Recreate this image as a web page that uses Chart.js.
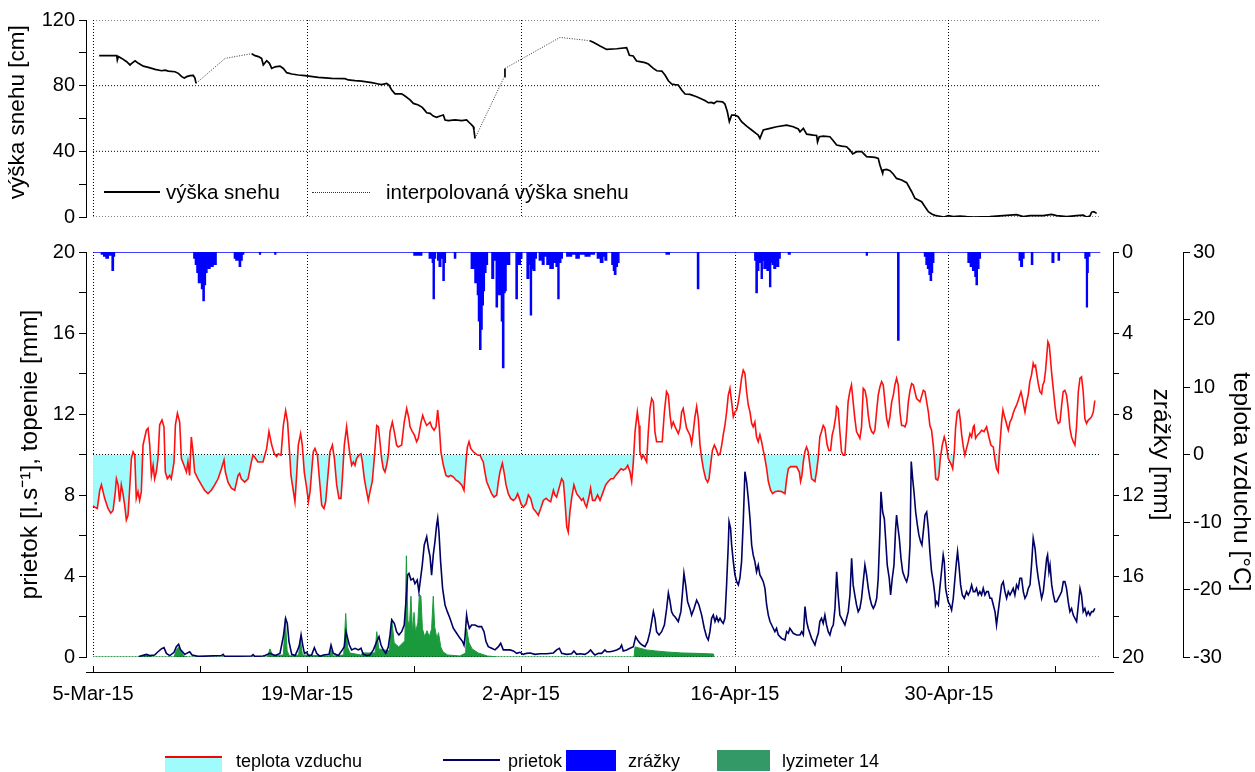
<!DOCTYPE html>
<html><head><meta charset="utf-8">
<script src="https://cdn.jsdelivr.net/npm/chart.js@4.4.1/dist/chart.umd.min.js"></script>
<style>
html,body{margin:0;padding:0;background:#fff;}
#wrap{position:relative;width:1255px;height:772px;overflow:hidden;font-family:'Liberation Sans',Arial,Helvetica,sans-serif;color:#000;background:#fff;}
canvas{position:absolute;left:0;top:0;}
.lg{position:absolute;font-size:18px;line-height:22px;white-space:nowrap;}
.lgt{position:absolute;font-size:20.5px;line-height:22px;white-space:nowrap;}
.sw{position:absolute;}
</style></head><body>
<div id="wrap">
<canvas id="topc" width="1255" height="772"></canvas>
<canvas id="botc" width="1255" height="772"></canvas>

<div class="sw" style="left:104px;top:191px;width:56px;border-top:2px solid #000;"></div>
<div class="lgt" style="left:166px;top:181px;">výška snehu</div>
<div class="sw" style="left:312px;top:192px;width:58px;border-top:1px dotted #333;"></div>
<div class="lgt" style="left:386px;top:181px;">interpolovaná výška snehu</div>

<div class="sw" style="left:165px;top:756px;width:57px;border-top:2px solid #ff0000;"></div>
<div class="sw" style="left:165px;top:758px;width:57px;height:14px;background:#a0fcfc;"></div>
<div class="lg" style="left:236px;top:750px;">teplota vzduchu</div>
<div class="sw" style="left:443px;top:759px;width:57px;border-top:2px solid #000066;"></div>
<div class="lg" style="left:508px;top:750px;">prietok</div>
<div class="sw" style="left:566px;top:750px;width:50px;height:21px;background:#0000ff;"></div>
<div class="lg" style="left:628px;top:750px;">zrážky</div>
<div class="sw" style="left:717px;top:750px;width:53px;height:21px;background:#339966;"></div>
<div class="lg" style="left:782px;top:750px;">lyzimeter 14</div>
</div>

<script>
// ---------------- DATA (days since 5-Mar-2015 00:00) ----------------
const tickDays = [0, 14, 28, 42, 56];
const tickLabels = ['5-Mar-15', '19-Mar-15', '2-Apr-15', '16-Apr-15', '30-Apr-15'];
const minorTickDays = [7, 21, 35, 49, 63];
const dataEndDay = 65.9;

const snowAxisTicks = [0, 20, 40, 60, 80, 100, 120];
const snowAxisLabels = [0, 40, 80, 120];
const snowGridValues = [0, 40, 80, 120];
const leftAxisTicks = [0, 2, 4, 6, 8, 10, 12, 14, 16, 18, 20];
const leftAxisLabels = [0, 4, 8, 12, 16, 20];
const precipAxisTicks = [0, 2, 4, 6, 8, 10, 12, 14, 16, 18, 20];
const precipAxisLabels = [0, 4, 8, 12, 16, 20];
const tempAxisTicks = [-30, -20, -10, 0, 10, 20, 30];

// snow depth [cm] measured segments
const snowMeasured1 = [[0.4,98.3],[1.55,98.3],[1.59,95.6],[1.66,97.7],[1.88,96.6],[2.20,94.6],[2.42,92.6],[2.53,93.6],[2.75,95.2],[2.97,93.6],[3.29,91.9],[3.62,91.1],[4.06,89.9],[4.49,89.1],[4.71,89.5],[4.93,88.9],[5.36,88.5],[5.58,87.5],[5.80,85.5],[5.97,84.7],[6.13,85.5],[6.35,86.1],[6.56,86.3],[6.67,84.5],[6.74,81.4]];
const snowMeasured2 = [[10.38,99.5],[10.60,98.3],[10.82,97.7],[11.03,96.6],[11.14,92.6],[11.36,95.2],[11.54,93.6],[11.69,90.5],[11.91,91.5],[12.23,91.9],[12.45,90.5],[12.67,87.9],[13.00,87.1],[13.43,86.5],[13.87,86.1],[14.74,85.1],[15.61,84.5],[16.48,84.3],[16.70,83.5],[17.14,83.1],[17.57,82.8],[18.23,81.8],[18.67,81.0],[18.88,80.6],[19.21,81.4],[19.36,80.4],[19.54,77.4],[19.76,75.0],[20.19,75.0],[20.41,73.7],[20.74,71.3],[20.96,69.2],[21.28,68.2],[21.54,66.8],[21.72,64.8],[21.83,63.5],[22.05,63.1],[22.26,61.5],[22.48,60.7],[22.70,61.5],[22.92,62.1],[23.03,59.1],[23.25,58.7],[23.68,59.1],[24.12,58.7],[24.44,59.1],[24.66,57.1],[24.77,56.1],[24.88,55.0],[24.92,53.0],[24.99,47.9]];
const snowMeasured3 = [[26.91,85.5],[26.95,90.5]];
const snowMeasured4 = [[32.5,107.4],[32.73,106.4],[33.17,104.1],[33.60,102.1],[34.26,102.5],[34.91,103.1],[35.09,98.5],[35.34,98.1],[35.56,95.0],[35.78,94.6],[36.11,94.0],[36.33,93.2],[36.66,90.5],[36.88,89.1],[37.21,88.9],[37.42,86.5],[37.64,83.0],[37.86,81.0],[38.07,80.6],[38.29,80.4],[38.51,77.4],[38.73,74.9],[39.06,74.7],[39.49,73.3],[40.03,70.9],[40.25,69.6],[40.47,69.8],[40.62,69.2],[40.80,70.5],[41.19,70.1],[41.34,68.8],[41.50,64.1],[41.63,58.1],[41.78,62.1],[41.99,62.1],[42.21,61.1],[42.43,58.1],[42.76,55.4],[43.09,53.0],[43.37,50.9],[43.52,49.9],[43.63,47.9],[43.85,53.0],[44.29,54.0],[44.72,55.0],[45.38,56.0],[45.81,55.0],[46.14,53.6],[46.25,51.9],[46.47,54.0],[46.69,50.5],[47.12,49.9],[47.34,49.7],[47.40,45.7],[47.51,48.9],[47.78,49.3],[48.21,48.9],[48.43,46.5],[48.65,43.8],[48.98,43.2],[49.30,42.8],[49.52,40.8],[49.70,38.4],[49.96,39.8],[50.29,39.8],[50.61,36.8],[51.16,36.3],[51.37,35.7],[51.48,31.7],[51.66,26.6],[51.70,28.6],[51.92,29.0],[52.14,28.2],[52.35,26.2],[52.57,23.5],[52.90,22.5],[53.23,20.9],[53.56,15.4],[53.77,11.4],[53.99,10.4],[54.21,9.3],[54.43,6.3],[54.65,3.2],[54.87,1.8],[55.08,1.0],[55.30,0.6],[55.52,0.2],[55.67,0],[55.96,0.8],[56.28,0.2],[56.72,0.6],[57.15,0.2],[57.59,0],[58.68,0.2],[59.55,0.8],[60.42,1.4],[60.86,0.2],[61.29,0.8],[62.17,0.8],[62.71,1.6],[63.04,0.8],[63.70,0.2],[64.35,0.8],[64.78,1.2],[65.00,0],[65.22,0.6],[65.33,2.9],[65.48,3.2],[65.66,2.2]];
// interpolated snow depth [cm]
const snowInterp1 = [[6.74,81.4],[8.64,96.6],[10.38,99.5]];
const snowInterp2 = [[24.99,47.9],[26.91,85.5]];
const snowInterp3 = [[26.95,90.5],[30.55,109.4],[32.5,107.4]];

// air temperature [°C]
const temperature = [[0.0,-7.6],[0.11,-7.8],[0.28,-8.0],[0.44,-5.3],[0.55,-4.5],[0.76,-6.5],[0.98,-8.0],[1.16,-8.7],[1.31,-8.3],[1.46,-5.5],[1.53,-3.6],[1.64,-4.5],[1.74,-7.0],[1.85,-4.5],[1.96,-5.8],[2.07,-7.5],[2.18,-9.7],[2.29,-9.0],[2.40,-5.0],[2.51,-0.6],[2.62,0.4],[2.73,-0.1],[2.83,-6.5],[2.94,-5.5],[3.05,-6.8],[3.16,-5.5],[3.27,1.4],[3.49,3.6],[3.60,3.9],[3.71,1.4],[3.82,-3.1],[3.93,-1.6],[4.03,-3.6],[4.14,-2.6],[4.25,-0.6],[4.36,4.4],[4.51,5.1],[4.64,4.1],[4.73,-2.6],[4.86,-3.6],[5.02,-3.1],[5.12,-3.6],[5.30,-1.1],[5.39,4.4],[5.52,6.1],[5.67,4.8],[5.78,-0.6],[5.95,-1.6],[6.11,-2.6],[6.21,-1.1],[6.32,-3.1],[6.43,2.6],[6.54,0.4],[6.65,-2.6],[6.87,-3.6],[7.09,-4.5],[7.30,-5.3],[7.52,-5.8],[7.74,-5.3],[7.96,-4.5],[8.18,-3.6],[8.40,-2.1],[8.57,-0.8],[8.66,-2.6],[8.83,-4.1],[9.05,-5.0],[9.27,-5.3],[9.49,-3.1],[9.59,-2.8],[9.70,-3.6],[9.92,-4.1],[10.14,-3.6],[10.36,-1.1],[10.47,-0.1],[10.58,-0.4],[10.79,-1.1],[11.12,-1.1],
[11.36,0.9],[11.51,3.4],[11.69,1.4],[11.86,0.1],[12.01,-0.3],[12.12,0.1],[12.30,-0.1],[12.45,4.3],[12.60,6.5],[12.73,4.8],[12.84,0.9],[12.95,-3.1],[13.11,-5.5],[13.21,-7.0],[13.32,-3.1],[13.43,1.4],[13.58,3.1],[13.69,1.4],[13.82,-2.6],[13.98,-5.0],[14.09,-7.0],[14.20,-5.5],[14.30,-2.6],[14.41,0.4],[14.52,0.9],[14.68,-0.1],[14.81,-3.6],[14.96,-7.5],[15.11,-8.0],[15.22,-7.0],[15.35,-3.6],[15.50,0.4],[15.66,1.4],[15.79,-0.6],[15.94,-4.5],[16.09,-6.5],[16.22,-6.5],[16.31,-3.6],[16.44,1.4],[16.59,4.1],[16.70,1.9],[16.81,-0.1],[16.92,-1.6],[17.03,-1.1],[17.14,-1.6],[17.24,-0.6],[17.40,-0.1],[17.53,0.1],[17.62,-1.1],[17.75,-3.6],[17.90,-5.5],[18.01,-6.8],[18.12,-5.5],[18.27,-4.0],[18.40,-0.6],[18.56,4.3],[18.67,4.1],[18.77,1.9],[18.88,-0.6],[18.99,-2.1],[19.10,-2.6],[19.21,-1.6],[19.32,-0.1],[19.43,3.4],[19.58,4.8],[19.71,3.4],[19.86,1.4],[19.97,1.1],[20.19,1.4],[20.36,4.8],[20.52,6.8],[20.67,5.3],[20.74,4.1],[20.89,3.4],[21.02,2.9],[21.17,1.9],[21.28,2.4],[21.46,4.8],[21.57,5.8],[21.67,5.1],[21.83,4.3],[22.05,4.8],
[22.16,4.1],[22.31,3.6],[22.44,4.1],[22.55,6.6],[22.66,3.9],[22.76,0.4],[22.92,-1.6],[23.09,-3.1],[23.25,-3.3],[23.40,-3.1],[23.57,-3.3],[23.75,-3.8],[23.90,-4.0],[24.12,-4.5],[24.27,-5.3],[24.40,-1.1],[24.49,1.1],[24.60,1.9],[24.71,0.9],[24.88,0.4],[25.05,0.1],[25.20,-0.1],[25.32,-0.1],[25.42,-0.6],[25.53,-1.1],[25.64,-2.6],[25.75,-4.0],[25.93,-5.0],[26.08,-5.8],[26.23,-6.3],[26.41,-6.0],[26.52,-4.0],[26.62,-2.6],[26.78,-1.3],[26.89,-2.6],[27.02,-4.5],[27.17,-5.8],[27.32,-6.5],[27.50,-6.8],[27.65,-6.5],[27.78,-5.8],[27.89,-6.5],[28.00,-7.3],[28.15,-7.8],[28.33,-7.3],[28.48,-6.0],[28.63,-6.5],[28.80,-8.0],[28.98,-8.5],[29.13,-9.0],[29.29,-8.0],[29.46,-6.8],[29.64,-6.5],[29.79,-6.8],[29.94,-7.0],[30.12,-5.3],[30.22,-6.0],[30.33,-6.3],[30.51,-4.8],[30.66,-3.6],[30.77,-4.0],[30.88,-7.0],[30.99,-10.7],[31.09,-11.5],[31.20,-8.5],[31.31,-6.5],[31.46,-4.5],[31.64,-5.8],[31.81,-6.3],[31.97,-6.8],[32.07,-6.5],[32.18,-7.3],[32.29,-7.8],[32.47,-6.0],[32.55,-5.0],[32.68,-6.8],[32.84,-6.8],
[33.01,-6.0],[33.17,-6.8],[33.38,-5.5],[33.54,-4.5],[33.71,-4.0],[33.88,-3.6],[34.04,-3.6],[34.19,-3.1],[34.37,-2.6],[34.54,-2.1],[34.69,-2.3],[34.85,-2.1],[34.98,-1.6],[35.13,-2.6],[35.24,-4.0],[35.35,-1.1],[35.46,3.4],[35.61,6.3],[35.72,4.3],[35.78,0.4],[35.89,-0.6],[36.00,-0.1],[36.11,-0.6],[36.22,-1.1],[36.33,3.4],[36.44,6.8],[36.55,8.3],[36.66,7.8],[36.76,3.4],[36.87,1.9],[36.98,1.9],[37.09,1.9],[37.24,1.9],[37.38,6.3],[37.52,9.3],[37.64,8.8],[37.75,5.8],[37.85,4.1],[37.96,4.8],[38.12,3.9],[38.29,3.1],[38.40,3.9],[38.51,6.3],[38.61,6.8],[38.72,5.3],[38.83,3.9],[38.94,3.4],[39.05,2.9],[39.16,1.6],[39.27,3.4],[39.38,5.6],[39.49,7.1],[39.60,5.3],[39.71,1.4],[39.82,-0.6],[39.93,-2.1],[40.08,-3.6],[40.21,-4.1],[40.30,-3.6],[40.43,-1.1],[40.52,0.6],[40.65,1.4],[40.75,0.9],[40.91,-0.1],[41.02,0.1],[41.13,1.4],[41.23,2.9],[41.34,4.3],[41.45,6.3],[41.56,8.8],[41.67,9.8],[41.78,7.8],[41.89,5.6],[42.00,6.3],[42.11,6.6],[42.22,7.8],[42.32,9.3],[42.43,11.3],[42.54,12.5],[42.65,12.0],[42.76,9.3],[42.87,7.3],[42.98,6.3],[43.09,4.6],[43.19,4.1],[43.30,4.8],[43.41,2.6],[43.52,1.9],[43.63,2.9],
[43.74,1.9],[43.85,0.6],[43.96,-0.6],[44.07,-2.1],[44.18,-4.0],[44.33,-5.3],[44.46,-5.8],[44.62,-5.5],[44.83,-5.4],[45.05,-5.5],[45.27,-5.8],[45.38,-3.6],[45.49,-2.1],[45.64,-1.8],[45.81,-1.8],[46.03,-1.8],[46.21,-2.6],[46.29,-4.0],[46.38,-3.1],[46.47,-1.1],[46.57,0.4],[46.68,1.1],[46.79,0.4],[46.90,-1.6],[47.01,-3.6],[47.12,-3.8],[47.23,-4.0],[47.33,-2.6],[47.44,-0.6],[47.55,2.6],[47.66,3.4],[47.77,4.3],[47.88,3.9],[48.03,1.4],[48.14,0.6],[48.25,0.6],[48.36,2.9],[48.47,3.9],[48.60,5.8],[48.64,7.1],[48.75,6.8],[48.86,3.4],[48.97,0.4],[49.08,-0.1],[49.19,-0.1],[49.29,3.4],[49.40,7.8],[49.51,9.3],[49.62,10.3],[49.73,7.8],[49.84,5.3],[49.95,3.4],[50.06,2.9],[50.17,2.4],[50.28,4.1],[50.39,9.8],[50.50,9.5],[50.61,8.3],[50.72,5.8],[50.83,4.1],[50.94,3.4],[51.05,3.1],[51.15,3.6],[51.26,6.3],[51.37,8.8],[51.48,10.0],[51.59,10.8],[51.70,10.3],[51.81,7.8],[51.92,5.3],[52.03,4.3],[52.14,5.6],[52.25,7.8],[52.36,8.8],[52.46,10.3],[52.57,11.3],[52.68,10.3],[52.79,6.3],[52.90,4.3],[53.01,4.3],[53.12,4.1],[53.23,4.8],[53.34,7.8],[53.45,9.5],[53.56,10.5],[53.67,10.3],[53.77,9.3],[53.88,8.3],[54.10,7.8],[54.32,9.5],[54.43,9.3],
[54.54,7.8],[54.65,6.3],[54.75,4.3],[54.86,3.6],[54.97,1.4],[55.04,-0.6],[55.13,-3.6],[55.26,-3.8],[55.34,-3.1],[55.43,-0.6],[55.56,1.4],[55.69,2.6],[55.78,1.9],[55.87,0.6],[55.95,-0.6],[56.06,-1.1],[56.17,-1.6],[56.24,-2.1],[56.35,0.4],[56.43,3.9],[56.54,6.3],[56.65,6.6],[56.74,5.1],[56.83,2.9],[56.94,1.1],[57.04,-0.1],[57.15,0.9],[57.26,1.9],[57.37,3.1],[57.48,2.6],[57.59,4.1],[57.65,4.3],[57.74,2.4],[57.87,2.9],[57.98,3.1],[58.13,3.6],[58.29,3.4],[58.46,4.1],[58.61,2.6],[58.74,1.4],[58.90,1.1],[59.00,-0.6],[59.11,-2.1],[59.22,-2.6],[59.33,1.4],[59.44,4.8],[59.53,6.6],[59.61,5.8],[59.70,5.1],[59.79,4.3],[59.88,3.6],[59.99,4.8],[60.10,5.3],[60.20,6.1],[60.31,6.8],[60.42,7.3],[60.57,8.3],[60.71,9.3],[60.79,8.5],[60.88,7.3],[60.97,6.3],[61.08,7.8],[61.18,8.8],[61.29,10.8],[61.40,11.8],[61.51,13.5],[61.58,13.0],[61.66,13.2],[61.75,11.8],[61.84,10.5],[61.95,9.3],[62.06,9.0],[62.14,10.3],[62.23,10.8],[62.32,12.5],[62.40,14.7],[62.47,16.7],[62.56,16.2],[62.62,14.7],[62.71,12.2],[62.82,9.8],[62.93,7.3],[63.04,5.3],[63.15,4.6],[63.26,4.8],[63.37,7.3],[63.47,9.3],[63.58,9.5],[63.69,8.8],[63.80,6.8],[63.91,3.9],[64.02,2.6],[64.13,1.9],[64.24,1.4],[64.35,4.3],[64.46,9.3],[64.57,11.3],[64.67,11.5],[64.78,9.3],[64.89,5.3],[65.00,4.6],[65.11,5.1],[65.22,5.3],[65.33,5.6],[65.44,6.3],[65.54,8.0]];

// discharge [l/s]
const discharge = [[3.0,0.02],[3.49,0.13],[3.71,0.07],[4.03,0.10],[4.25,0.26],[4.47,0.40],[4.64,0.46],[4.80,0.18],[5.02,0.07],[5.30,0.23],[5.45,0.51],[5.60,0.63],[5.73,0.35],[6.00,0.13],[6.32,0.26],[6.48,0.10],[6.87,0.03],[8.40,0.07],[8.51,0.13],[8.61,0.03],[10.36,0.05],[10.47,0.12],[10.58,0.03],[11.12,0.05],
[11.25,0.07],[11.58,0.18],[11.91,0.07],[12.23,0.18],[12.45,1.0],[12.60,1.91],[12.71,1.66],[12.82,0.76],[13.00,0.13],[13.22,0.07],[13.39,0.35],[13.50,0.59],[13.61,1.09],[13.72,0.59],[13.83,0.18],[13.98,0.23],[14.09,0.07],[14.30,0.10],[14.48,0.46],[14.63,0.18],[14.85,0.03],[15.07,0.10],[15.44,0.13],[15.57,0.59],[15.72,0.18],[16.05,0.07],[16.31,0.35],[16.44,0.51],[16.55,1.25],[16.66,0.92],[16.77,0.59],[16.92,0.35],[17.14,0.43],[17.36,0.35],[17.53,0.43],[17.68,0.13],[17.90,0.07],[18.12,0.10],[18.34,0.35],[18.56,0.76],[18.71,1.00],[18.84,0.59],[18.99,0.35],[19.15,0.18],[19.32,0.51],[19.43,1.09],[19.54,1.83],[19.71,1.66],[19.86,1.25],[20.01,1.09],[20.19,1.25],[20.36,1.58],[20.52,3.23],[20.58,4.05],[20.67,4.13],[20.80,3.80],[20.95,3.88],[21.06,3.62],[21.21,3.80],[21.32,3.23],[21.43,3.88],[21.54,4.54],[21.67,5.53],[21.83,5.94],[21.94,5.37],[22.05,4.96],
[22.15,4.04],[22.26,5.04],[22.37,5.70],[22.48,6.52],[22.55,6.85],[22.63,6.19],[22.74,4.71],[22.87,3.39],[23.03,2.57],[23.18,2.24],[23.35,1.91],[23.57,1.42],[23.79,1.17],[24.01,0.92],[24.18,0.76],[24.27,0.59],[24.33,0.92],[24.44,2.07],[24.51,1.75],[24.62,1.42],[24.77,1.58],[24.99,1.58],[25.20,1.50],[25.42,1.50],[25.58,1.25],[25.71,0.76],[25.86,0.51],[26.08,0.43],[26.30,0.35],[26.52,0.51],[26.67,0.68],[26.84,0.35],[27.28,0.35],[27.50,0.30],[27.72,0.18],[27.93,0.23],[28.15,0.13],[28.37,0.18],[28.59,0.20],[28.92,0.13],[29.24,0.16],[29.68,0.16],[30.12,0.20],[30.33,0.35],[30.51,0.43],[30.66,0.18],[30.99,0.13],[31.31,0.16],[31.46,0.30],[31.64,0.13],[31.86,0.16],[32.18,0.13],[32.40,0.23],[32.55,0.35],[32.73,0.18],[32.84,0.10],
[33.06,0.18],[33.28,0.18],[33.49,0.35],[33.60,0.26],[33.82,0.26],[34.04,0.30],[34.26,0.35],[34.47,0.43],[34.58,0.59],[34.69,0.30],[34.91,0.35],[35.13,0.43],[35.35,0.51],[35.50,1.00],[35.63,0.84],[35.78,0.68],[35.93,0.59],[36.11,0.51],[36.28,0.76],[36.44,1.25],[36.55,1.75],[36.66,2.24],[36.76,1.91],[36.87,1.25],[37.03,1.09],[37.20,1.25],[37.38,1.58],[37.53,2.40],[37.64,3.16],[37.75,2.75],[37.85,2.24],[37.96,2.07],[38.07,1.99],[38.29,1.75],[38.46,2.24],[38.57,3.23],[38.66,4.13],[38.77,3.56],[38.90,2.73],[39.05,2.40],[39.16,2.07],[39.32,2.40],[39.49,2.81],[39.64,2.57],[39.82,2.07],[39.99,1.42],[40.14,1.00],[40.25,0.84],[40.36,1.25],[40.47,1.91],[40.58,2.07],[40.69,1.75],[40.80,1.99],[40.91,1.75],[41.02,1.91],[41.13,1.75],[41.23,1.66],[41.34,1.91],[41.45,3.56],[41.56,5.53],[41.61,6.68],[41.71,6.35],[41.78,5.53],[41.89,4.71],[42.00,4.05],[42.11,3.72],[42.22,3.56],[42.32,3.89],[42.43,4.71],[42.54,6.68],[42.65,9.15],[42.76,8.64],[42.87,7.82],[42.98,6.85],[43.09,5.53],[43.19,5.04],[43.30,4.71],[43.41,4.21],[43.52,4.54],[43.63,4.05],
[43.74,3.89],[43.85,3.72],[43.96,3.39],[44.07,2.57],[44.18,2.07],[44.29,1.75],[44.40,1.58],[44.50,1.42],[44.61,1.25],[44.72,1.42],[44.83,1.09],[45.05,0.92],[45.27,0.84],[45.38,1.25],[45.49,1.17],[45.59,1.42],[45.81,1.17],[46.03,1.09],[46.25,1.09],[46.36,1.25],[46.47,1.09],[46.58,2.49],[46.69,1.75],[46.79,1.42],[46.90,1.17],[47.01,0.92],[47.12,0.76],[47.23,0.59],[47.34,0.92],[47.45,1.17],[47.55,1.75],[47.66,1.91],[47.77,1.66],[47.88,2.07],[47.99,1.58],[48.10,1.25],[48.21,1.09],[48.32,1.42],[48.43,1.58],[48.54,2.40],[48.65,4.21],[48.75,3.06],[48.86,2.07],[48.97,1.91],[49.08,1.75],[49.19,1.58],[49.30,1.91],[49.41,2.24],[49.52,3.06],[49.63,4.87],[49.73,3.56],[49.84,3.06],[49.95,2.57],[50.06,2.24],[50.17,2.40],[50.28,2.90],[50.39,3.72],[50.50,4.54],[50.61,4.05],[50.72,3.39],[50.83,2.90],[50.94,2.57],[51.05,2.40],[51.16,2.57],[51.27,2.90],[51.37,3.89],[51.48,6.19],[51.55,8.16],[51.66,7.16],[51.77,6.83],[51.88,5.53],[51.96,4.54],[52.09,3.89],[52.18,3.06],[52.29,3.89],[52.40,4.54],[52.51,6.35],[52.57,7.01],[52.64,6.52],[52.75,5.86],[52.86,4.87],[52.97,4.21],[53.12,3.89],[53.23,3.72],[53.34,4.05],[53.45,5.53],[53.53,9.65],[53.62,8.82],[53.71,8.16],[53.82,7.16],[53.93,6.52],[54.03,6.03],[54.14,5.70],[54.23,5.53],[54.32,6.19],[54.43,7.01],
[54.54,7.16],[54.65,6.35],[54.75,5.20],[54.86,4.21],[54.97,3.72],[55.08,3.06],[55.12,2.57],[55.19,2.73],[55.30,2.57],[55.40,3.39],[55.51,4.21],[55.62,5.04],[55.69,4.71],[55.78,3.39],[55.86,3.06],[55.95,2.73],[56.06,2.57],[56.17,2.32],[56.28,2.90],[56.39,3.89],[56.49,4.71],[56.56,5.20],[56.65,4.54],[56.76,3.56],[56.87,3.06],[57.00,2.90],[57.15,3.23],[57.26,3.06],[57.37,3.23],[57.48,3.56],[57.59,3.23],[57.70,3.23],[57.80,3.39],[57.91,3.06],[58.02,3.23],[58.13,3.06],[58.24,3.39],[58.35,3.06],[58.46,3.23],[58.57,3.23],[58.68,2.90],[58.79,2.90],[58.90,2.57],[59.01,2.24],[59.11,1.58],[59.22,2.24],[59.33,2.90],[59.44,3.56],[59.55,3.72],[59.66,3.23],[59.77,2.90],[59.88,3.23],[59.99,3.06],[60.10,3.23],[60.20,3.39],[60.31,3.06],[60.42,3.56],[60.53,3.39],[60.64,3.89],[60.75,3.89],[60.86,3.23],[60.97,2.90],[61.08,3.06],[61.19,3.39],[61.30,3.56],[61.40,4.54],[61.51,5.86],[61.63,5.37],[61.73,4.54],[61.84,3.89],[61.95,3.39],[62.06,2.90],[62.17,3.23],[62.28,4.05],[62.39,4.87],[62.45,5.04],[62.54,4.21],[62.61,4.54],[62.72,3.56],[62.83,3.06],[62.93,2.73],[63.04,2.73],[63.15,2.90],[63.26,3.06],[63.37,3.23],[63.48,3.72],[63.58,3.72],[63.69,3.39],[63.80,2.73],[63.91,2.24],[64.02,2.40],[64.13,2.07],[64.24,1.91],[64.35,1.75],[64.46,2.57],[64.57,3.39],[64.67,3.06],[64.78,2.24],[64.89,2.40],[65.00,2.07],[65.11,2.24],[65.22,2.07],[65.33,2.24],[65.44,2.24],[65.54,2.40]];

// lysimeter 14 outflow [mm]
const lysimeter = [[0,0],[3.1,0],[3.49,0.13],[3.7,0.05],[3.9,0],[5.3,0],[5.45,0.35],[5.6,0.5],[5.73,0.3],[5.95,0.05],[6.2,0],[11.4,0],[11.58,0.4],[11.75,0.05],[12.45,0.1],[12.58,1.9],[12.7,0.3],[12.85,0.05],[13.45,0.1],[13.57,0.85],[13.7,0.1],[15.45,0.05],[15.57,0.35],[15.7,0.05],[16.4,0.1],[16.53,2.15],[16.65,0.5],[16.8,0.2],[17.5,0.1],[17.65,0.2],[18.45,0.2],[18.56,1.25],[18.7,0.4],[19.4,0.3],[19.54,1.9],[19.7,0.7],[20.0,0.5],[20.4,0.8],[20.5,5.0],[20.6,1.8],[20.7,1.5],[20.8,3.0],[20.9,1.2],[21.0,2.2],[21.1,1.2],[21.25,1.7],[21.35,3.1],[21.45,3.0],[21.55,1.4],[21.7,1.0],[21.85,1.3],[22.0,1.0],[22.15,1.4],[22.26,3.0],[22.35,1.5],[22.5,0.9],[22.6,1.2],[22.75,0.5],[22.9,0.25],[23.2,0.1],[24.0,0.05],[24.38,0.2],[24.44,1.4],[24.6,0.7],[24.8,0.4],[25.2,0.2],[25.8,0.05],[26.5,0],[35.4,0],[35.46,0.5],[35.7,0.45],[36.2,0.35],[36.8,0.3],[37.5,0.25],[38.5,0.2],[39.5,0.18],[40.58,0.15],[40.6,0]];

// precipitation [mm] (value holds until next point)
const precipitation = [[0,0],[0.55,0.1],[0.7,0.2],[0.85,0.3],[1.0,0.15],[1.25,0.9],[1.33,0.2],[1.4,0],
[6.6,0.3],[6.7,0.6],[6.8,1.0],[6.9,1.5],[7.0,1.2],[7.1,1.8],[7.2,2.4],[7.27,1.6],[7.35,1.0],[7.45,0.6],[7.55,0.8],[7.65,0.5],[7.75,0.7],[7.85,0.3],[7.95,0.6],[8.05,0],
[9.25,0.3],[9.35,0.4],[9.5,0.3],[9.57,0.7],[9.65,0.4],[9.75,0.1],[9.85,0],
[10.9,0.1],[10.95,0],[11.9,0.1],[11.95,0],
[21.0,0.15],[21.5,0],[22.0,0.3],[22.2,0.5],[22.26,2.3],[22.32,0.3],[22.4,0],[22.55,0.4],[22.65,0.7],[22.75,0.3],[22.9,1.4],[22.97,0.5],[23.05,0],[23.65,0.3],[23.72,0],
[24.75,0.8],[24.9,0.5],[24.99,1.5],[25.08,1.2],[25.15,2.1],[25.22,3.4],[25.3,4.8],[25.37,3.8],[25.45,2.6],[25.53,1.9],[25.6,1.0],[25.7,0.6],[25.8,0],
[26.1,1.3],[26.2,0.4],[26.3,0],[26.38,2.7],[26.45,1.2],[26.55,2.1],[26.65,1.5],[26.72,3.4],[26.8,5.7],[26.87,2.0],[26.95,1.9],[27.02,0.6],[27.1,0],[27.15,0.6],[27.25,0],
[27.68,2.3],[27.75,0.5],[27.85,0.6],[27.95,0.3],[28.05,0],[28.4,1.3],[28.5,0.6],[28.62,3.1],[28.68,0.8],[28.8,0.9],[28.9,0.3],[29.0,0],
[29.2,0.4],[29.4,0.6],[29.5,0.2],[29.6,0],[29.7,0.6],[29.9,0.8],[30.1,0.5],[30.3,0.7],[30.42,2.3],[30.48,0.5],[30.6,0.3],[30.7,0],
[31.0,0.2],[31.3,0.1],[31.6,0.3],[31.8,0.1],[32.2,0.2],[32.5,0.1],[32.8,0],
[33.0,0.3],[33.2,0.5],[33.35,0.2],[33.5,0.4],[33.6,0],[33.95,0.6],[34.05,0.9],[34.12,1.1],[34.2,0.7],[34.3,0.5],[34.4,0],
[37.5,0.1],[37.7,0],[39.55,1.8],[39.62,0],
[43.3,0.4],[43.38,2.0],[43.45,0.9],[43.55,0.5],[43.65,0.3],[43.72,1.3],[43.78,0.4],[43.9,0.8],[44.0,0.6],[44.1,0.9],[44.2,0.5],[44.27,1.7],[44.33,0.5],[44.45,0.6],[44.55,0.8],[44.65,0.4],[44.75,0.7],[44.85,0.3],[44.95,0],
[45.5,0.1],[45.6,0],[50.6,0.15],[50.65,0],[52.65,4.35],[52.72,0],
[54.4,0.2],[54.5,0.6],[54.6,0.8],[54.7,1.1],[54.78,1.4],[54.85,1.0],[54.92,0.5],[55.0,0],
[57.25,0.5],[57.4,0.7],[57.55,0.9],[57.7,1.2],[57.78,1.6],[57.85,0.8],[57.95,0.3],[58.05,0],
[60.6,0.4],[60.7,0.7],[60.8,0.3],[60.9,0],[61.4,0.6],[61.47,0],[62.75,0.5],[62.85,0],[63.15,0.4],[63.22,0],
[64.9,0.3],[65.0,2.7],[65.05,1.0],[65.1,0.2],[65.2,0],[65.9,0]];

// ---------------- CHARTS ----------------
const FONT = "'Liberation Sans', Arial, Helvetica, sans-serif";
Chart.defaults.font.family = FONT;
Chart.defaults.font.size = 20;
Chart.defaults.color = '#000';
Chart.defaults.animation = false;

const NB = '\u00A0';
const X_MIN = -0.46, X_MAX = 66.73;
const xTicksAll = tickDays.concat(minorTickDays).sort((a, b) => a - b);
const gridColor = (c) => (c.tick && tickDays.includes(c.tick.value)) ? '#000' : 'rgba(0,0,0,0)';
const setTicks = (vals) => (s) => { s.ticks = vals.map(v => ({ value: v })); };
const lineDs = (data, extra) => Object.assign({ data, pointRadius: 0, borderWidth: 1, tension: 0, fill: false }, extra);

// Top panel: snow depth
new Chart(document.getElementById('topc'), {
  type: 'line',
  data: {
    datasets: [
      ...snowGridValues.map(v => lineDs([[0, v], [dataEndDay, v]], { borderColor: '#000', borderDash: [1, 2], order: 5 })),
      ...[snowInterp1, snowInterp2, snowInterp3].map(s => lineDs(s, { borderColor: '#333', borderDash: [1, 1.5], order: 2 })),
      ...[snowMeasured1, snowMeasured2, snowMeasured3, snowMeasured4].map(s => lineDs(s, { borderColor: '#000', borderWidth: 1.7, order: 1 }))
    ]
  },
  options: {
    responsive: false, animation: false, events: [],
    layout: { padding: { left: 0, right: 142, top: 20, bottom: 555 } },
    plugins: { legend: { display: false }, tooltip: { enabled: false } },
    scales: {
      x: {
        type: 'linear', min: X_MIN, max: X_MAX,
        afterBuildTicks: setTicks(xTicksAll),
        ticks: { display: false },
        grid: { drawTicks: false, color: gridColor, lineWidth: 1 },
        border: { display: false, dash: [1, 2] },
        afterFit: (s) => { s.height = 0; }
      },
      y: {
        type: 'linear', position: 'left', min: 0, max: 120,
        afterBuildTicks: setTicks(snowAxisTicks),
        ticks: { autoSkip: false, padding: 4, callback: (v) => snowAxisLabels.includes(v) ? String(v) : '' },
        grid: { drawOnChartArea: false, tickLength: 7, tickColor: '#000', color: '#000' },
        border: { display: true, color: '#000', width: 1 },
        title: { display: true, text: NB + NB + 'výška snehu [cm]', font: { size: 22.5 }, padding: { top: 4, bottom: 0 } },
        afterFit: (s) => { s.width = 86; }
      }
    }
  }
});

// Bottom panel
new Chart(document.getElementById('botc'), {
  type: 'line',
  data: {
    datasets: [
      lineDs(temperature, { label: 'teplota vzduchu', borderColor: '#ff1010', borderWidth: 1.6, yAxisID: 'yT', order: 0,
        fill: { target: { value: 0 }, above: 'rgba(0,0,0,0)', below: '#a0fcfc' } }),
      lineDs(discharge, { label: 'prietok', borderColor: '#000066', borderWidth: 1.6, yAxisID: 'y', order: 1 }),
      lineDs([[0, 0], [dataEndDay, 0]], { borderColor: '#000', borderDash: [1, 2], yAxisID: 'yT', order: 2 }),
      lineDs([[0, 0], [dataEndDay, 0]], { borderColor: '#000', borderDash: [1, 2], yAxisID: 'y', order: 4 }),
      lineDs(lysimeter, { label: 'lyzimeter 14', borderColor: '#1a9a3c', backgroundColor: '#1a9a3c', borderWidth: 1, yAxisID: 'y', order: 3, fill: 'origin' }),
      lineDs(precipitation, { label: 'zrážky', borderColor: '#0000ff', backgroundColor: '#0000ff', borderWidth: 1.5, stepped: true, yAxisID: 'yP', order: 6, fill: 'origin' })
    ]
  },
  options: {
    responsive: false, animation: false, events: [],
    layout: { padding: { left: 0, right: 0, top: 252, bottom: 115 } },
    plugins: { legend: { display: false }, tooltip: { enabled: false }, filler: { drawTime: 'beforeDatasetsDraw' } },
    scales: {
      x: {
        type: 'linear', min: X_MIN, max: X_MAX, position: { y: -0.79 },
        afterBuildTicks: setTicks(xTicksAll),
        ticks: { autoSkip: false, maxRotation: 0, padding: 16,
          callback: (v) => { const i = tickDays.indexOf(v); return i >= 0 ? tickLabels[i] : ''; } },
        grid: { color: gridColor, tickColor: '#000', tickLength: -7, lineWidth: 1 },
        border: { display: true, color: '#000', width: 1, dash: [1, 2] }
      },
      y: {
        type: 'linear', position: 'left', min: 0, max: 20,
        afterBuildTicks: setTicks(leftAxisTicks),
        ticks: { autoSkip: false, padding: 4, callback: (v) => leftAxisLabels.includes(v) ? String(v) : '' },
        grid: { drawOnChartArea: false, tickLength: 7, tickColor: '#000', color: '#000' },
        border: { display: true, color: '#000', width: 1 },
        title: { display: true, text: 'prietok [l.s\u207B\u00B9], topenie [mm]', font: { size: 24.5 }, padding: { top: 16, bottom: 0 } },
        afterFit: (s) => { s.width = 86; }
      },
      yP: {
        type: 'linear', position: 'right', min: 0, max: 20, reverse: true,
        afterBuildTicks: setTicks(precipAxisTicks),
        ticks: { autoSkip: false, padding: 3, callback: (v) => precipAxisLabels.includes(v) ? String(v) : '' },
        grid: { drawOnChartArea: false, tickLength: 6, tickColor: '#000', color: '#000' },
        border: { display: true, color: '#000', width: 1 },
        title: { display: true, text: 'zrážky [mm]', font: { size: 24.5 }, padding: { top: 8, bottom: 0 } },
        afterFit: (s) => { s.width = 70; }
      },
      yT: {
        type: 'linear', position: 'right', min: -30, max: 30,
        afterBuildTicks: setTicks(tempAxisTicks),
        ticks: { autoSkip: false, padding: 3, callback: (v) => String(v) },
        grid: { drawOnChartArea: false, tickLength: 7, tickColor: '#000', color: '#000' },
        border: { display: true, color: '#000', width: 1 },
        title: { display: true, text: NB.repeat(8) + 'teplota vzduchu [°C]', font: { size: 24.5 }, padding: { top: 0, bottom: 0 } },
        afterFit: (s) => { s.width = 72; }
      }
    }
  }
});
</script>
</body></html>
